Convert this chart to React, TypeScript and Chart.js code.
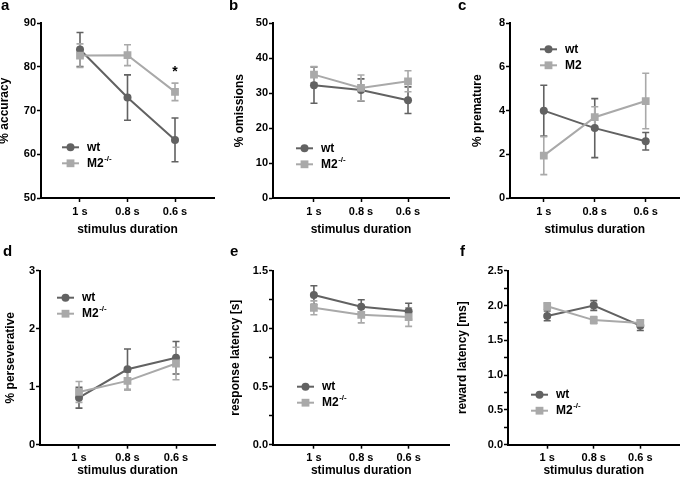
import React, { useEffect, useRef } from 'react';
import { Chart, registerables } from 'chart.js';

Chart.register(...registerables);

const FONT = "'Liberation Sans', Arial, Helvetica, sans-serif";
const WT_COLOR = '#626262';
const M2_COLOR = '#a9a9a9';

// ---------- data ----------
const durations = ['1 s', '0.8 s', '0.6 s'];
const groupNames = ['wt', 'M2'];
const xTitle = 'stimulus duration';
const panelLetters = ['a', 'b', 'c', 'd', 'e', 'f'];
const yTitles = ['% accuracy', '% omissions', '% premature', '% perseverative', 'response latency [s]', 'reward latency [ms]'];
const m2Superscripts = ['-/-', '-/-', '', '-/-', '-/-', '-/-'];

const yMins = [50, 0, 0, 0, 0, 0];
const yMaxs = [90, 50, 8, 3, 1.5, 2.5];
const yMajorSteps = [10, 10, 2, 1, 0.5, 0.5];
const yMinorSteps = [10, 10, 2, 1, 0.25, 0.25];
const yDecimals = [0, 0, 0, 0, 1, 1];

const accuracyWt = [84.0, 73.0, 63.3];
const accuracyWtSem = [3.9, 5.2, 5.0];
const accuracyM2 = [82.6, 82.7, 74.3];
const accuracyM2Sem = [2.7, 2.4, 2.0];
const accuracySig = ['', '', '*'];

const omissionsWt = [32.3, 30.9, 28.0];
const omissionsWtSem = [5.2, 3.2, 3.8];
const omissionsM2 = [35.3, 31.5, 33.4];
const omissionsM2Sem = [2.3, 3.7, 3.0];

const prematureWt = [4.0, 3.2, 2.6];
const prematureWtSem = [1.16, 1.35, 0.4];
const prematureM2 = [1.94, 3.7, 4.44];
const prematureM2Sem = [0.87, 0.48, 1.27];

const perseverativeWt = [0.81, 1.3, 1.5];
const perseverativeWtSem = [0.18, 0.35, 0.28];
const perseverativeM2 = [0.91, 1.1, 1.4];
const perseverativeM2Sem = [0.18, 0.15, 0.28];

const responseWt = [1.29, 1.19, 1.15];
const responseWtSem = [0.08, 0.06, 0.07];
const responseM2 = [1.18, 1.12, 1.1];
const responseM2Sem = [0.06, 0.07, 0.08];

const rewardWt = [1.85, 2.0, 1.71];
const rewardWtSem = [0.07, 0.07, 0.07];
const rewardM2 = [1.99, 1.79, 1.75];
const rewardM2Sem = [0.05, 0.05, 0.04];

const wtMeans = [accuracyWt, omissionsWt, prematureWt, perseverativeWt, responseWt, rewardWt];
const wtSems = [accuracyWtSem, omissionsWtSem, prematureWtSem, perseverativeWtSem, responseWtSem, rewardWtSem];
const m2Means = [accuracyM2, omissionsM2, prematureM2, perseverativeM2, responseM2, rewardM2];
const m2Sems = [accuracyM2Sem, omissionsM2Sem, prematureM2Sem, perseverativeM2Sem, responseM2Sem, rewardM2Sem];
const significance = [accuracySig, null, null, null, null, null];

// ---------- layout (positions / styles) ----------
type Box = {
  left: number; top: number; width: number; height: number;
  area: [number, number, number, number]; // l, r, t, b (local)
  xRange: [number, number];
  yTitleOffset: number;
  legend: [number, number];
  letter: [number, number];
};

const BOXES: Box[] = [
  { left: 0, top: 0, width: 228, height: 241, area: [41, 214, 23.3, 198], xRange: [0.179, 3.821], yTitleOffset: -1.3, legend: [21, 124], letter: [1, 10] },
  { left: 228, top: 0, width: 227, height: 241, area: [45, 221, 23.3, 198], xRange: [0.128, 3.872], yTitleOffset: 6, legend: [23, 125], letter: [1, 10] },
  { left: 455, top: 0, width: 230, height: 241, area: [55, 228, 23.3, 198], xRange: [0.337, 3.663], yTitleOffset: 17, legend: [30, 26], letter: [3, 10] },
  { left: 0, top: 241, width: 228, height: 241, area: [40, 215, 29.7, 203.7], xRange: [0.196, 3.804], yTitleOffset: 5, legend: [17, 27], letter: [3, 15] },
  { left: 228, top: 241, width: 227, height: 241, area: [45, 222, 29.7, 203.7], xRange: [0.137, 3.863], yTitleOffset: 2, legend: [24, 116], letter: [2, 15] },
  { left: 455, top: 241, width: 230, height: 241, area: [53, 228, 29.7, 203.7], xRange: [0.158, 3.842], yTitleOffset: 2, legend: [23, 124], letter: [5, 15] },
];

const tickFont = { family: FONT, size: 11, weight: 'bold' as const };
const titleFont = { family: FONT, size: 12, weight: 'bold' as const, lineHeight: 1 };

function makeDecor(p: number, box: Box) {
  return {
    id: 'decor' + p,
    beforeDatasetsDraw(chart: any) {
      const ctx = chart.ctx;
      const yS = chart.scales.y;
      chart.data.datasets.forEach((ds: any, di: number) => {
        const meta = chart.getDatasetMeta(di);
        ctx.save();
        ctx.strokeStyle = ds.borderColor;
        ctx.lineWidth = 1.6;
        meta.data.forEach((pt: any, i: number) => {
          const m = ds.data[i].y;
          const e = ds.errors[i];
          const yt = yS.getPixelForValue(m + e);
          const yb = yS.getPixelForValue(m - e);
          const cap = 3.5;
          ctx.beginPath();
          ctx.moveTo(pt.x, yt); ctx.lineTo(pt.x, yb);
          ctx.moveTo(pt.x - cap, yt); ctx.lineTo(pt.x + cap, yt);
          ctx.moveTo(pt.x - cap, yb); ctx.lineTo(pt.x + cap, yb);
          ctx.stroke();
        });
        ctx.restore();
      });
    },
    afterDraw(chart: any) {
      const ctx = chart.ctx;
      const area = chart.chartArea;
      ctx.save();
      // panel letter
      ctx.fillStyle = '#000';
      ctx.font = `bold 15px ${FONT}`;
      ctx.textAlign = 'left';
      ctx.textBaseline = 'alphabetic';
      ctx.fillText(panelLetters[p], box.letter[0], box.letter[1]);

      // legend inside plot
      const lx = area.left + box.legend[0];
      chart.data.datasets.forEach((ds: any, di: number) => {
        const y = area.top + box.legend[1] + di * 16;
        ctx.strokeStyle = ds.borderColor;
        ctx.lineWidth = 2;
        ctx.beginPath();
        ctx.moveTo(lx, y); ctx.lineTo(lx + 17, y);
        ctx.stroke();
        ctx.fillStyle = ds.borderColor;
        const cx = lx + 8.5;
        if (ds.pointStyle === 'circle') {
          ctx.beginPath(); ctx.arc(cx, y, 4, 0, Math.PI * 2); ctx.fill();
        } else {
          ctx.fillRect(cx - 3.9, y - 3.9, 7.8, 7.8);
        }
        ctx.fillStyle = '#000';
        ctx.font = `bold 12px ${FONT}`;
        ctx.textBaseline = 'middle';
        ctx.fillText(ds.label, lx + 25, y);
        if (ds.superscript) {
          const w = ctx.measureText(ds.label).width;
          ctx.font = `bold 8px ${FONT}`;
          ctx.fillText(ds.superscript, lx + 25 + w + 0.5, y - 5);
        }
      });

      // significance marks
      const sig = significance[p];
      if (sig) {
        const xS = chart.scales.x;
        const yS = chart.scales.y;
        sig.forEach((s: string, i: number) => {
          if (!s) return;
          let top = -Infinity;
          chart.data.datasets.forEach((ds: any) => { top = Math.max(top, ds.data[i].y + ds.errors[i]); });
          ctx.font = `bold 14px ${FONT}`;
          ctx.textAlign = 'center';
          ctx.textBaseline = 'alphabetic';
          ctx.fillText(s, xS.getPixelForValue(i + 1), yS.getPixelForValue(top) - 7);
        });
      }
      ctx.restore();
    },
  };
}

function Panel({ p }: { p: number }) {
  const ref = useRef<HTMLCanvasElement | null>(null);
  const box = BOXES[p];
  useEffect(() => {
    if (!ref.current) return;
    const [l, r, t, b] = box.area;
    const toPts = (arr: number[]) => arr.map((y, i) => ({ x: i + 1, y }));
    const chart = new Chart(ref.current, {
      type: 'line',
      data: {
        datasets: [
          {
            label: groupNames[0], data: toPts(wtMeans[p]), errors: wtSems[p],
            borderColor: WT_COLOR, backgroundColor: WT_COLOR, borderWidth: 2,
            pointStyle: 'circle', pointRadius: 4, pointBorderWidth: 0,
            pointBackgroundColor: WT_COLOR, order: 2,
          } as any,
          {
            label: groupNames[1], superscript: m2Superscripts[p], data: toPts(m2Means[p]), errors: m2Sems[p],
            borderColor: M2_COLOR, backgroundColor: M2_COLOR, borderWidth: 2,
            pointStyle: 'rect', pointRadius: 5.5, pointBorderWidth: 0,
            pointBackgroundColor: M2_COLOR, order: 1,
          } as any,
        ],
      },
      options: {
        animation: false,
        responsive: false,
        events: [],
        layout: { padding: { left: 0, top: t, right: box.width - r, bottom: 0 } },
        plugins: { legend: { display: false }, tooltip: { enabled: false }, title: { display: false } },
        scales: {
          x: {
            type: 'linear',
            min: box.xRange[0],
            max: box.xRange[1],
            afterBuildTicks: (s: any) => { s.ticks = durations.map((_, i) => ({ value: i + 1 })); },
            afterFit: (s: any) => { s.height = box.height - b; },
            ticks: {
              callback: (_v: any, i: number) => durations[i],
              font: tickFont, color: '#000', padding: 3, autoSkip: false, maxRotation: 0,
            },
            grid: { drawOnChartArea: false, drawTicks: true, tickLength: 4, tickColor: '#000', tickWidth: 1.5 },
            border: { display: true, color: '#000', width: 2 },
            title: { display: true, text: xTitle, font: titleFont, color: '#000', padding: { top: 0, bottom: 5 } },
          },
          y: {
            type: 'linear',
            min: yMins[p],
            max: yMaxs[p],
            afterFit: (s: any) => { s.width = l; },
            ticks: {
              stepSize: yMinorSteps[p],
              callback: (v: any) => {
                const n = Number(v);
                const k = n / yMajorSteps[p];
                if (Math.abs(k - Math.round(k)) > 1e-6) return '';
                return n.toFixed(yDecimals[p]);
              },
              font: tickFont, color: '#000', padding: 1, autoSkip: false,
            },
            grid: { drawOnChartArea: false, drawTicks: true, tickLength: 4, tickColor: '#000', tickWidth: 1.5 },
            border: { display: true, color: '#000', width: 2 },
            title: { display: true, text: yTitles[p], font: titleFont, color: '#000', padding: { top: box.yTitleOffset, bottom: 0 } },
          },
        },
      } as any,
      plugins: [makeDecor(p, box)],
    });
    return () => chart.destroy();
  }, [p]);
  return (
    <canvas
      ref={ref}
      width={box.width}
      height={box.height}
      style={{ position: 'absolute', left: box.left, top: box.top, width: box.width, height: box.height }}
    />
  );
}

export default function App() {
  return (
    <div style={{ position: 'absolute', left: 0, top: 0, width: 685, height: 482, background: '#fff', overflow: 'hidden' }}>
      {BOXES.map((_, p) => <Panel key={p} p={p} />)}
    </div>
  );
}
